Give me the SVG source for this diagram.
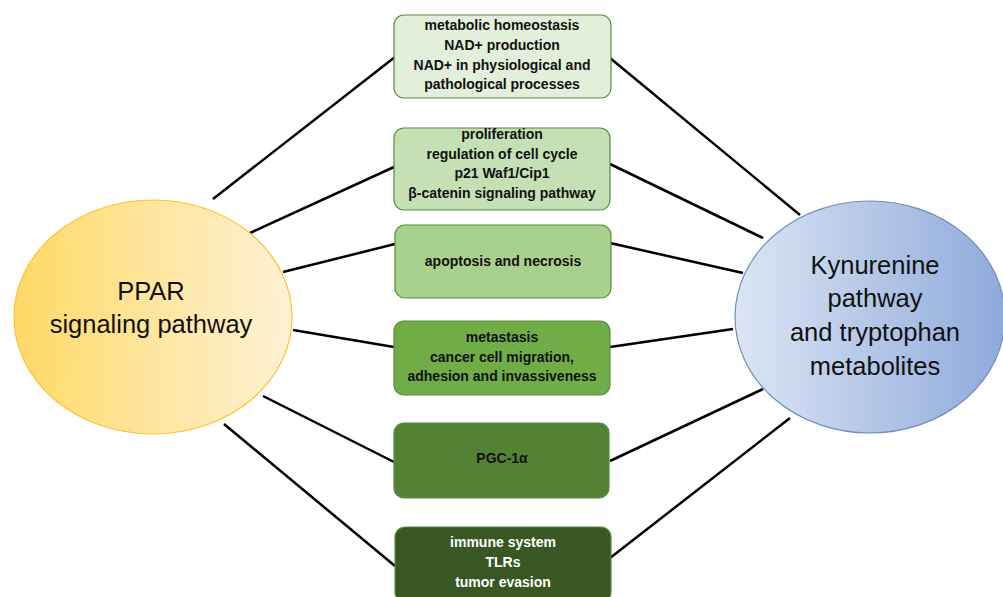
<svg xmlns="http://www.w3.org/2000/svg" width="1003" height="597" viewBox="0 0 1003 597">
<defs>
<linearGradient id="gY" x1="0" y1="0" x2="1" y2="0">
<stop offset="0" stop-color="#ffd966"/>
<stop offset="1" stop-color="#fff2d6"/>
</linearGradient>
<linearGradient id="gB" x1="0" y1="0" x2="1" y2="0">
<stop offset="0" stop-color="#dce5f4"/>
<stop offset="1" stop-color="#8eaadb"/>
</linearGradient>
</defs>
<style>
.box{stroke:#5a8a3c;stroke-width:1.2}
.t{font-family:"Liberation Sans",Arial,sans-serif;font-weight:bold;font-size:14px;text-anchor:middle;fill:#111}
.w{fill:#ffffff}
.big{font-family:"Liberation Sans",Arial,sans-serif;font-size:25.5px;text-anchor:middle;fill:#111}
.c line{stroke:#000;stroke-width:2.5}
</style>
<g class="c" id="connectors">
<line x1="213" y1="199" x2="395" y2="57"/>
<line x1="250" y1="233" x2="394" y2="167"/>
<line x1="283" y1="272" x2="395" y2="244"/>
<line x1="293" y1="330" x2="394" y2="347"/>
<line x1="263" y1="396" x2="394" y2="462"/>
<line x1="224" y1="424" x2="395" y2="566"/>
<line x1="610" y1="58" x2="800" y2="215"/>
<line x1="610" y1="164" x2="763" y2="238"/>
<line x1="610" y1="243" x2="743" y2="273"/>
<line x1="610" y1="347" x2="733" y2="329"/>
<line x1="610" y1="461" x2="763" y2="389"/>
<line x1="610" y1="558" x2="790" y2="418"/>
</g>
<g id="ppar">
<ellipse cx="153" cy="317" rx="139" ry="117" fill="url(#gY)" stroke="#ffc22e" stroke-width="1.2"/>
<text class="big" x="151" y="300">PPAR</text>
<text class="big" x="151" y="333">signaling pathway</text>
</g>
<g id="kyn">
<ellipse cx="870" cy="317" rx="135" ry="116" fill="url(#gB)" stroke="#6f8fba" stroke-width="1.2"/>
<text class="big" x="875" y="274">Kynurenine</text>
<text class="big" x="875" y="307">pathway</text>
<text class="big" x="875" y="341">and tryptophan</text>
<text class="big" x="875" y="375">metabolites</text>
</g>
<g id="box1">
<rect class="box" x="394" y="15" width="217" height="83" rx="10" fill="#e2efda"/>
<text class="t" x="502" y="30">metabolic homeostasis</text>
<text class="t" x="502" y="50">NAD+ production</text>
<text class="t" x="502" y="70">NAD+ in physiological and</text>
<text class="t" x="502" y="89">pathological processes</text>
</g>
<g id="box2">
<rect class="box" x="394" y="128" width="216" height="82" rx="10" fill="#c5e0b4"/>
<text class="t" x="502" y="139">proliferation</text>
<text class="t" x="502" y="159">regulation of cell cycle</text>
<text class="t" x="502" y="178">p21 Waf1/Cip1</text>
<text class="t" x="502" y="198">β-catenin signaling pathway</text>
</g>
<g id="box3">
<rect class="box" x="395" y="225" width="216" height="73" rx="10" fill="#a9d18e"/>
<text class="t" x="503" y="266">apoptosis and necrosis</text>
</g>
<g id="box4">
<rect class="box" x="394" y="321" width="216" height="74" rx="10" fill="#70ad47"/>
<text class="t" x="502" y="342">metastasis</text>
<text class="t" x="502" y="362">cancer cell migration,</text>
<text class="t" x="502" y="381">adhesion and invassiveness</text>
</g>
<g id="box5">
<rect class="box" x="394" y="423" width="215" height="75" rx="10" fill="#548235" stroke="#4a7530"/>
<text class="t" x="502" y="463">PGC-1α</text>
</g>
<g id="box6">
<rect class="box" x="395" y="527" width="216" height="75" rx="10" fill="#385723" stroke="#2e4a1c"/>
<text class="t w" x="503" y="547">immune system</text>
<text class="t w" x="503" y="567">TLRs</text>
<text class="t w" x="503" y="587">tumor evasion</text>
</g>
</svg>
